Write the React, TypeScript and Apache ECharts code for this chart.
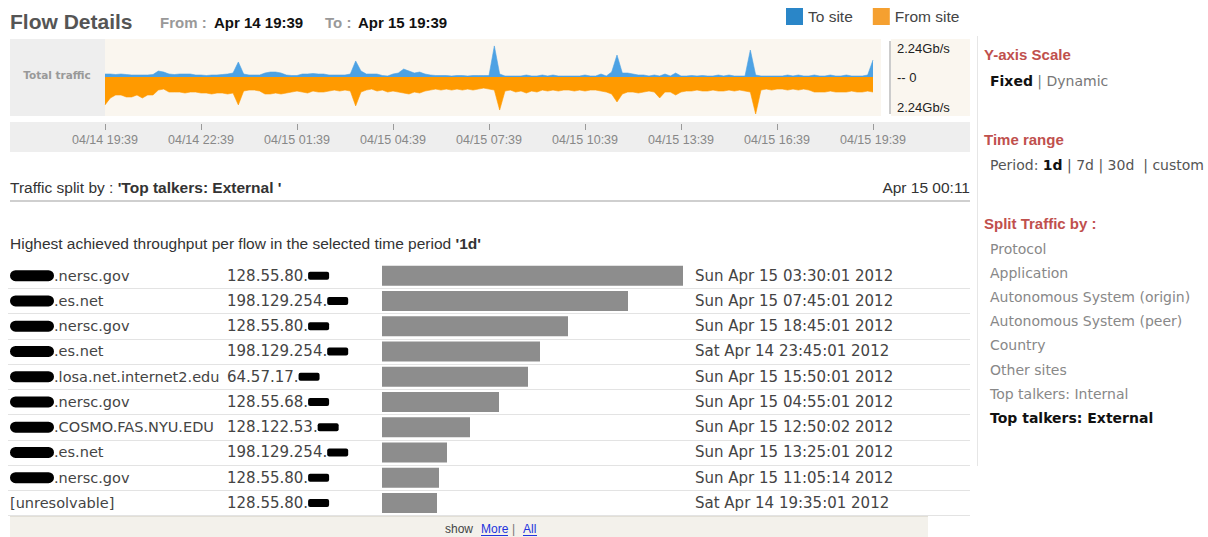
import React, { useEffect, useRef } from 'react';
import * as echarts from 'echarts';

// ---------- DATA ----------
const timeTickLabels = ['04/14 19:39', '04/14 22:39', '04/15 01:39', '04/15 04:39', '04/15 07:39', '04/15 10:39', '04/15 13:39', '04/15 16:39', '04/15 19:39'];
const sampleMinutes = 10; // one sample every 10 minutes over 24h
const toSiteGbps = [
  0.18, 0.18, 0.15, 0.18, 0.15, 0.12, 0.12, 0.12, 0.12, 0.15,
  0.36, 0.30, 0.18, 0.15, 0.18, 0.18, 0.18, 0.12, 0.12, 0.09,
  0.12, 0.12, 0.15, 0.18, 0.24, 0.91, 0.18, 0.12, 0.12, 0.12,
  0.24, 0.30, 0.30, 0.24, 0.12, 0.09, 0.09, 0.18, 0.18, 0.21,
  0.18, 0.18, 0.12, 0.12, 0.12, 0.12, 0.18, 0.97, 0.36, 0.18,
  0.18, 0.18, 0.09, 0.06, 0.18, 0.24, 0.48, 0.36, 0.24, 0.30,
  0.18, 0.12, 0.09, 0.09, 0.09, 0.06, 0.09, 0.09, 0.06, 0.09,
  0.09, 0.09, 0.09, 1.88, 0.18, 0.06, 0.06, 0.06, 0.06, 0.12,
  0.06, 0.06, 0.12, 0.06, 0.12, 0.06, 0.06, 0.06, 0.06, 0.06,
  0.12, 0.06, 0.06, 0.18, 0.06, 0.30, 1.33, 0.24, 0.24, 0.18,
  0.12, 0.12, 0.06, 0.12, 0.06, 0.18, 0.06, 0.24, 0.06, 0.06,
  0.09, 0.06, 0.09, 0.06, 0.06, 0.12, 0.06, 0.12, 0.06, 0.06,
  0.06, 1.63, 0.12, 0.06, 0.06, 0.06, 0.06, 0.06, 0.12, 0.06,
  0.12, 0.06, 0.06, 0.12, 0.06, 0.06, 0.12, 0.06, 0.06, 0.12,
  0.06, 0.06, 0.06, 0.12, 1.03,
];
const fromSiteGbps = [
  1.69, 1.27, 1.09, 1.09, 1.21, 1.21, 1.09, 1.27, 1.09, 1.09,
  0.79, 0.73, 0.91, 0.91, 0.91, 0.97, 0.91, 0.91, 0.97, 0.97,
  1.03, 0.97, 0.97, 1.03, 0.97, 1.69, 0.85, 0.79, 0.79, 0.85,
  1.03, 1.03, 0.97, 1.03, 0.97, 0.91, 0.85, 0.91, 0.97, 0.85,
  0.91, 0.91, 0.85, 0.79, 0.85, 0.79, 0.85, 1.75, 0.91, 0.79,
  0.73, 0.85, 0.79, 0.91, 0.85, 0.91, 0.97, 1.03, 0.91, 0.97,
  0.85, 0.79, 0.73, 0.79, 0.73, 0.79, 0.73, 0.79, 0.73, 0.79,
  0.73, 0.67, 0.73, 0.79, 2.00, 0.85, 0.79, 0.91, 0.85, 0.97,
  0.85, 0.91, 0.79, 0.85, 0.79, 0.85, 0.79, 0.79, 0.85, 0.79,
  0.85, 0.79, 0.79, 0.85, 0.91, 1.03, 1.51, 1.03, 0.91, 0.91,
  0.97, 0.91, 0.85, 0.91, 1.27, 0.91, 0.91, 1.09, 0.91, 0.85,
  0.85, 0.79, 0.85, 0.85, 0.79, 0.85, 0.85, 0.79, 0.85, 0.79,
  0.85, 0.91, 2.24, 0.79, 0.73, 0.79, 0.73, 0.73, 0.79, 0.73,
  0.79, 0.73, 0.79, 0.91, 0.91, 0.91, 0.85, 0.91, 0.91, 0.91,
  0.85, 0.91, 0.91, 0.85, 0.91,
];
const yScaleMax = 2.24;
const yScaleLabels = ['2.24Gb/s', '-- 0', '2.24Gb/s'];

const hostSuffixes = ['.nersc.gov', '.es.net', '.nersc.gov', '.es.net', '.losa.net.internet2.edu', '.nersc.gov', '.COSMO.FAS.NYU.EDU', '.es.net', '.nersc.gov', '[unresolvable]'];
const hostRedacted = [true, true, true, true, true, true, true, true, true, false];
const ipPrefixes = ['128.55.80.', '198.129.254.', '128.55.80.', '198.129.254.', '64.57.17.', '128.55.68.', '128.122.53.', '198.129.254.', '128.55.80.', '128.55.80.'];
const peakTimes = ['Sun Apr 15 03:30:01 2012', 'Sun Apr 15 07:45:01 2012', 'Sun Apr 15 18:45:01 2012', 'Sat Apr 14 23:45:01 2012', 'Sun Apr 15 15:50:01 2012', 'Sun Apr 15 04:55:01 2012', 'Sun Apr 15 12:50:02 2012', 'Sun Apr 15 13:25:01 2012', 'Sun Apr 15 11:05:14 2012', 'Sat Apr 14 19:35:01 2012'];
const peakThroughput = [3.01, 2.46, 1.86, 1.58, 1.46, 1.17, 0.88, 0.65, 0.57, 0.55];

const splitOptions = ['Protocol', 'Application', 'Autonomous System (origin)', 'Autonomous System (peer)', 'Country', 'Other sites', 'Top talkers: Internal', 'Top talkers: External'];
const activeSplit = 'Top talkers: External';

// ---------- STYLE ----------
const HELV = '"Liberation Sans", Arial, sans-serif';
const LUCIDA = '"DejaVu Sans", Verdana, sans-serif';
const RED = '#c0504d';

function txt(x: number, y: number, text: string, o: any = {}) {
  return {
    type: 'text', x, y, z: 50, silent: true,
    style: {
      text,
      fill: o.fill || '#333',
      fontSize: o.size || 14,
      fontFamily: o.family || HELV,
      fontWeight: o.weight || 'normal',
      align: o.align || 'left',
      verticalAlign: 'middle',
      rich: o.rich,
    },
  };
}
function rect(x: number, y: number, w: number, h: number, fill: string) {
  return { type: 'rect', z: -10, silent: true, shape: { x, y, width: w, height: h }, style: { fill } };
}
function hline(x1: number, y1: number, x2: number, y2: number, stroke: string, lw = 1) {
  return { type: 'line', z: -5, silent: true, shape: { x1, y1, x2, y2 }, style: { stroke, lineWidth: lw } };
}

export default function App() {
  const ref = useRef<HTMLDivElement>(null);
  useEffect(() => {
    if (!ref.current) return;
    const chart = echarts.init(ref.current, null, { renderer: 'svg' });
    const rowCats = peakTimes.map((_, i) => String(i + 1));
    const plotLeft = 105, plotWidth = 768;
    const tableTop = 263, tableHeight = 252.5;
    const rowH = tableHeight / rowCats.length;
    const barLeft = 382, barWidth = 301;

    const graphic: any[] = [
      // traffic panel backgrounds
      rect(10, 39, 95, 77, '#eeeeee'),
      rect(105, 39, 776, 77, '#faf6ef'),
      rect(891, 39, 79, 77, '#faf6ef'),
      hline(890, 41, 890, 114, '#cccccc', 2),
      rect(10, 122, 960, 30, '#eeeeee'),
      txt(57, 75, 'Total traffic', { size: 10.5, family: LUCIDA, weight: 'bold', fill: '#999', align: 'center' }),
      txt(897, 48, yScaleLabels[0], { size: 13, fill: '#222' }),
      txt(897, 77, yScaleLabels[1], { size: 13, fill: '#222' }),
      txt(897, 107, yScaleLabels[2], { size: 13, fill: '#222' }),
      // header
      txt(10, 21, 'Flow Details', { size: 21, weight: 'bold', fill: '#555' }),
      txt(160, 22, 'From :', { size: 15, weight: 'bold', fill: '#999' }),
      txt(214, 22, 'Apr 14 19:39', { size: 15, weight: 'bold', fill: '#111' }),
      txt(325, 22, 'To :', { size: 15, weight: 'bold', fill: '#999' }),
      txt(358, 22, 'Apr 15 19:39', { size: 15, weight: 'bold', fill: '#111' }),
      // table headers
      txt(10, 187, "{a|Traffic split by : }{b|'Top talkers: External '}", {
        rich: {
          a: { fontSize: 15.5, fontFamily: HELV, fill: '#333' },
          b: { fontSize: 15.5, fontFamily: HELV, fontWeight: 'bold', fill: '#333' },
        },
      }),
      txt(970, 187, 'Apr 15 00:11', { size: 15.5, fill: '#333', align: 'right' }),
      hline(10, 201, 970, 201, '#cfcfcf', 2),
      txt(10, 243, "{a|Highest achieved throughput per flow in the selected time period }{b|'1d'}", {
        rich: {
          a: { fontSize: 15.5, fontFamily: HELV, fill: '#333' },
          b: { fontSize: 15.5, fontFamily: HELV, fontWeight: 'bold', fill: '#333' },
        },
      }),
      // footer
      rect(10, 517, 918, 20, '#f3f1eb'),
      hline(10, 516.5, 928, 516.5, '#e2dfd6', 1),
      txt(445, 529, 'show', { size: 12, fill: '#444' }),
      txt(481, 529, 'More', { size: 12, fill: '#2233dd' }),
      hline(481, 535.5, 508, 535.5, '#2233dd', 1),
      txt(512, 529, '|', { size: 12, fill: '#777' }),
      txt(523, 529, 'All', { size: 12, fill: '#2233dd' }),
      hline(523, 535.5, 537, 535.5, '#2233dd', 1),
      // right panel
      hline(977.5, 36, 977.5, 466, '#e6e6e6', 1),
      txt(984, 54, 'Y-axis Scale', { size: 15, weight: 'bold', fill: RED }),
      txt(990, 81, '{b|Fixed}{a| | Dynamic}', {
        rich: {
          a: { fontSize: 14, fontFamily: LUCIDA, fill: '#777' },
          b: { fontSize: 14, fontFamily: LUCIDA, fontWeight: 'bold', fill: '#111' },
        },
      }),
      txt(984, 139, 'Time range', { size: 15, weight: 'bold', fill: RED }),
      txt(990, 165, '{a|Period: }{b|1d}{a| | 7d | 30d  | custom}', {
        rich: {
          a: { fontSize: 14, fontFamily: LUCIDA, fill: '#555' },
          b: { fontSize: 14, fontFamily: LUCIDA, fontWeight: 'bold', fill: '#111' },
        },
      }),
      txt(984, 223, 'Split Traffic by :', { size: 15, weight: 'bold', fill: RED }),
      ...splitOptions.map((s, i) =>
        txt(990, 249 + i * 24.1, s, {
          size: 14, family: LUCIDA,
          weight: s === activeSplit ? 'bold' : 'normal',
          fill: s === activeSplit ? '#111' : '#888',
        })
      ),
    ];

    const rowLabelRich = {
      blob: { backgroundColor: '#000', width: 44, height: 11, borderRadius: 5.5 },
      ipblob: { backgroundColor: '#000', width: 21, height: 8, borderRadius: 2 },
      t: { fontSize: 15, fontFamily: LUCIDA, color: '#444' },
      h: { fontSize: 14.5, fontFamily: LUCIDA, color: '#444' },
    };

    const option: any = {
      animation: false,
      backgroundColor: '#fff',
      graphic: { elements: graphic },
      legend: {
        left: 781, top: 3, itemWidth: 17, itemHeight: 17, itemGap: 20, icon: 'rect',
        textStyle: { fontSize: 15.5, fontFamily: HELV, color: '#444' },
        data: [
          { name: 'To site', itemStyle: { color: '#2a86c8' } },
          { name: 'From site', itemStyle: { color: '#f5a030' } },
        ],
        selectedMode: false,
      },
      grid: [
        { left: plotLeft, top: 40, width: plotWidth, height: 74 },
        { left: plotLeft, top: 123, width: plotWidth, height: 1 },
        { left: barLeft, top: tableTop, width: barWidth, height: tableHeight },
        { left: 8, top: tableTop + rowH, width: 962, height: tableHeight - rowH },
      ],
      xAxis: [
        { gridIndex: 0, type: 'value', min: 0, max: 1440, show: false },
        {
          gridIndex: 1, type: 'value', min: 0, max: 1440, interval: 180, position: 'bottom',
          axisLine: { show: false },
          axisTick: { show: true, length: 6, lineStyle: { color: '#9a9a9a' } },
          splitLine: { show: false },
          axisLabel: {
            margin: 9, fontSize: 12.5, fontFamily: HELV, color: '#888',
            formatter: (v: number) => timeTickLabels[Math.round(v / 180)] || '',
          },
        },
        { gridIndex: 2, type: 'value', min: 0, max: peakThroughput[0], show: false },
        { gridIndex: 3, type: 'value', min: 0, max: 1, show: false },
      ],
      yAxis: [
        { gridIndex: 0, type: 'value', min: -yScaleMax, max: yScaleMax, show: false },
        { gridIndex: 1, type: 'value', show: false },
        {
          gridIndex: 2, type: 'category', inverse: true, data: rowCats, position: 'left',
          axisLine: { show: false }, axisTick: { show: false }, splitLine: { show: false },
          axisLabel: {
            interval: 0, align: 'left', margin: barLeft - 10,
            formatter: (_: string, i: number) =>
              hostRedacted[i] ? `{blob|\u00a0}{h|${hostSuffixes[i]}}` : `{h|${hostSuffixes[i]}}`,
            rich: rowLabelRich,
          },
        },
        {
          gridIndex: 2, type: 'category', inverse: true, data: rowCats, position: 'left',
          axisLine: { show: false }, axisTick: { show: false }, splitLine: { show: false },
          axisLabel: {
            interval: 0, align: 'left', margin: barLeft - 227,
            formatter: (_: string, i: number) => `{t|${ipPrefixes[i]}}{ipblob|\u00a0}`,
            rich: rowLabelRich,
          },
        },
        {
          gridIndex: 2, type: 'category', inverse: true, data: rowCats, position: 'right',
          axisLine: { show: false }, axisTick: { show: false }, splitLine: { show: false },
          axisLabel: {
            interval: 0, align: 'left', margin: 12,
            formatter: (_: string, i: number) => `{t|${peakTimes[i]}}`,
            rich: rowLabelRich,
          },
        },
        {
          // row separators below rows 1..10
          gridIndex: 3, type: 'category', inverse: true, data: rowCats.slice(1),
          axisLine: { show: false }, axisTick: { show: false }, axisLabel: { show: false },
          splitLine: { show: true, lineStyle: { color: '#e3e3e3', width: 1 } },
        },
      ],
      series: [
        {
          name: 'To site', type: 'line', xAxisIndex: 0, yAxisIndex: 0, symbol: 'none', smooth: false,
          data: toSiteGbps.map((v, i) => [i * sampleMinutes, v]),
          itemStyle: { color: '#2a86c8' },
          lineStyle: { width: 0.6, color: '#4da2e4' },
          areaStyle: { color: '#4da2e4', opacity: 1 },
        },
        {
          name: 'From site', type: 'line', xAxisIndex: 0, yAxisIndex: 0, symbol: 'none', smooth: false,
          data: fromSiteGbps.map((v, i) => [i * sampleMinutes, -v]),
          itemStyle: { color: '#f5a030' },
          lineStyle: { width: 0.6, color: '#ff9a00' },
          areaStyle: { color: '#ff9a00', opacity: 1 },
        },
        {
          name: 'Peak throughput', type: 'bar', xAxisIndex: 2, yAxisIndex: 2,
          data: peakThroughput, barWidth: 20,
          itemStyle: { color: '#8d8d8d' },
        },
      ],
    };
    chart.setOption(option);
    return () => chart.dispose();
  }, []);
  return <div ref={ref} style={{ position: 'absolute', left: 0, top: 0, width: 1208, height: 537, background: '#fff' }} />;
}
